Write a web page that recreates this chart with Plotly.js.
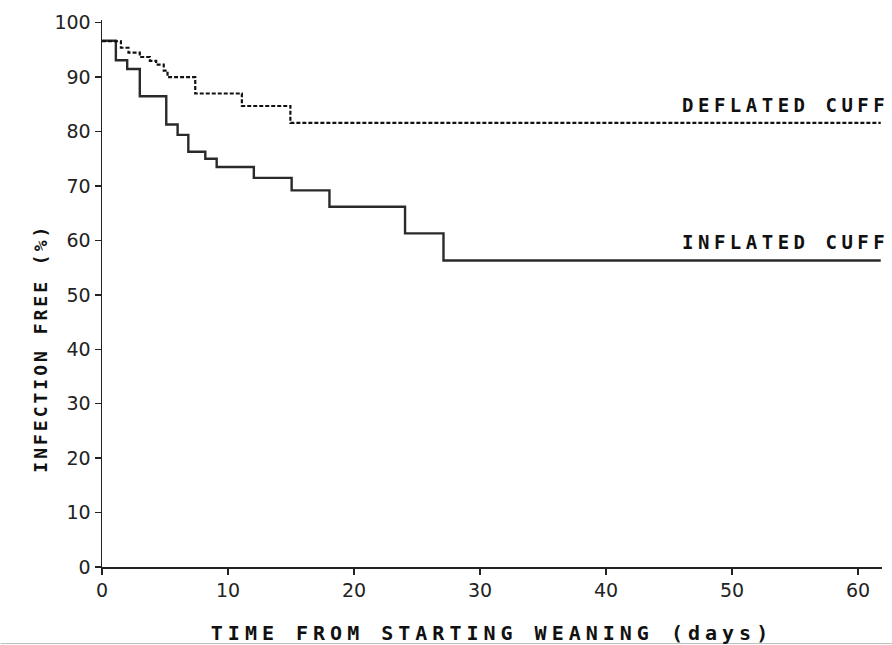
<!DOCTYPE html>
<html>
<head>
<meta charset="utf-8">
<script src="https://cdn.plot.ly/plotly-3.0.1.min.js"></script>
<style>
  html, body { margin: 0; padding: 0; background: #fff; }
  #chart { width: 892px; height: 645px; }
  .xtitle { letter-spacing: 5px; }
  .annotation-text { letter-spacing: 4.5px; }
  .ytitle-ann .annotation-text { letter-spacing: 3px; }
</style>
</head>
<body>
<div id="chart"></div>
<script>
// Inflated cuff (solid) Kaplan-Meier steps
const timeInflated = [0, 1.1, 2.0, 3.0, 5.1, 6.0, 6.85, 8.2, 9.1, 12.05, 15.05, 18.05, 24.05, 27.1, 61.8];
const survInflated = [96.7, 93.1, 91.5, 86.5, 81.3, 79.4, 76.3, 75.0, 73.5, 71.5, 69.2, 66.2, 61.3, 56.3, 56.3];
// Deflated cuff (dashed) Kaplan-Meier steps
const timeDeflated = [0, 1.5, 2.1, 3.0, 3.8, 4.3, 4.9, 5.2, 7.4, 11.1, 14.95, 61.8];
const survDeflated = [96.6, 95.4, 94.5, 93.7, 93.0, 92.3, 91.2, 90.0, 87.0, 84.7, 81.6, 81.6];

const xTicks = [0, 10, 20, 30, 40, 50, 60];
const yTicks = [0, 10, 20, 30, 40, 50, 60, 70, 80, 90, 100];
const labelDeflated = "DEFLATED CUFF";
const labelInflated = "INFLATED CUFF";
const xTitle = "TIME FROM STARTING WEANING (days)";
const yTitle = "INFECTION FREE (%)";

const mono = "DejaVu Sans Mono, monospace";
const tickFamily = "DejaVu Sans, sans-serif";

const traces = [
  {
    x: timeInflated, y: survInflated, type: "scatter", mode: "lines",
    line: { shape: "hv", color: "#2a2a2a", width: 2.4 },
    hoverinfo: "skip", showlegend: false
  },
  {
    x: timeDeflated, y: survDeflated, type: "scatter", mode: "lines",
    line: { shape: "hv", color: "#111", width: 2.2, dash: "4px,2px" },
    hoverinfo: "skip", showlegend: false
  }
];

const layout = {
  width: 892, height: 645,
  paper_bgcolor: "#fff", plot_bgcolor: "#fff",
  margin: { l: 102, r: 10, t: 20, b: 78 },
  showlegend: false,
  font: { family: mono, color: "#111" },
  xaxis: {
    range: [0, 61.9], tickmode: "array", tickvals: xTicks, ticktext: xTicks.map(String),
    showgrid: false, zeroline: false, showline: true, linecolor: "#222", linewidth: 1.5,
    ticks: "outside", ticklen: 6, tickwidth: 1.5, tickcolor: "#222",
    tickfont: { family: tickFamily, size: 19, color: "#222" },
    title: { text: xTitle, standoff: 25, font: { family: mono, size: 20, color: "#111", weight: "bold" } }
  },
  yaxis: {
    range: [0, 100.5], tickmode: "array", tickvals: yTicks, ticktext: yTicks.map(String),
    showgrid: false, zeroline: false, showline: true, linecolor: "#222", linewidth: 1.5,
    ticks: "outside", ticklen: 6, tickwidth: 1.5, tickcolor: "#222",
    tickfont: { family: tickFamily, size: 19, color: "#222" }
  },
  annotations: [
    { text: labelDeflated, xref: "paper", x: 1.012, xanchor: "right", yref: "y", y: 84.8, yanchor: "middle",
      showarrow: false, font: { family: mono, size: 19, color: "#111", weight: "bold" } },
    { text: labelInflated, xref: "paper", x: 1.012, xanchor: "right", yref: "y", y: 59.7, yanchor: "middle",
      showarrow: false, font: { family: mono, size: 19, color: "#111", weight: "bold" } },
    { text: yTitle, xref: "paper", x: 0, xshift: -62, xanchor: "center", yref: "y", y: 40.2, yanchor: "middle",
      textangle: -90, showarrow: false, name: "ytitle",
      font: { family: mono, size: 18, color: "#111", weight: "bold" } }
  ],
  shapes: [
    { type: "line", xref: "paper", yref: "paper", x0: -0.13, x1: 1.02, y0: -0.14, y1: -0.14,
      line: { color: "#bbb", width: 1 } }
  ]
};

Plotly.newPlot("chart", traces, layout, { displayModeBar: false, staticPlot: true }).then(function () {
  const anns = document.querySelectorAll(".annotation");
  if (anns.length >= 3) anns[2].classList.add("ytitle-ann");
});
</script>
</body>
</html>
